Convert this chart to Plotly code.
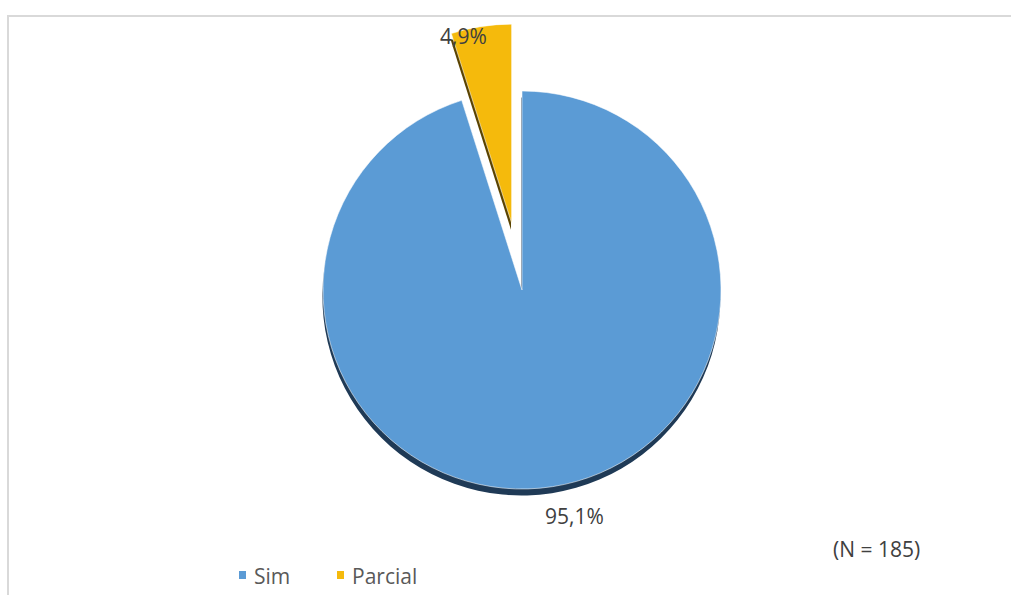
import plotly.graph_objects as go

# Data
labels = ["Sim", "Parcial"]
values = [95.1, 4.9]
sample_size = 185

colors = ["#5B9BD5", "#F5BA0C"]
shadow_colors = ["#1F3A56", "#5A4300"]

W, H = 1011, 595
FONT = "Open Sans, Liberation Sans, sans-serif"
TEXT_COLOR = "#404040"
LEGEND_COLOR = "#595959"

# Pie geometry (pixels)
cx, cy, r = 522, 290, 199
pull_parcial = 0.34
half = r * (1 + pull_parcial)


def domain(dx=0.0, dy=0.0):
    x0 = (cx + dx - half) / W
    x1 = (cx + dx + half) / W
    y0 = 1 - (cy + dy + half) / H
    y1 = 1 - (cy + dy - half) / H
    return dict(x=[x0, x1], y=[y0, y1])


pulls = [0, pull_parcial]

fig = go.Figure()

# drop shadow under the pie
fig.add_trace(go.Pie(
    labels=labels, values=values, sort=False, direction="clockwise", rotation=0,
    pull=pulls, domain=domain(-0.6, 6.5),
    marker=dict(colors=shadow_colors, line=dict(width=0)),
    textinfo="none", hoverinfo="skip", showlegend=False,
))

# main pie
fig.add_trace(go.Pie(
    labels=labels, values=values, sort=False, direction="clockwise", rotation=0,
    pull=pulls, domain=domain(),
    marker=dict(colors=colors, line=dict(color="rgba(255,255,255,0.55)", width=1)),
    textinfo="none", hoverinfo="label+percent", showlegend=False,
))


def pct(v):
    return f"{v:.1f}".replace(".", ",") + "%"


def px_x(x):
    return x / W


def px_y(y):
    return 1 - y / H


# value labels
label_pos = {"Sim": (574, 516), "Parcial": (463, 36)}
annotations = []
for lab, v in zip(labels, values):
    lx, ly = label_pos[lab]
    annotations.append(dict(
        x=px_x(lx), y=px_y(ly), xref="paper", yref="paper",
        text=pct(v), showarrow=False, xanchor="center", yanchor="middle",
        font=dict(family=FONT, size=21, color=TEXT_COLOR),
    ))

annotations.append(dict(
    x=px_x(876), y=px_y(549), xref="paper", yref="paper",
    text=f"(N = {sample_size})", showarrow=False, xanchor="center", yanchor="middle",
    font=dict(family=FONT, size=21, color=TEXT_COLOR),
))

shapes = [
    # chart area border
    dict(type="rect", xref="paper", yref="paper",
         x0=px_x(8), x1=1.02, y0=-0.02, y1=px_y(16),
         line=dict(color="#D9D9D9", width=2), fillcolor="rgba(0,0,0,0)", layer="below"),
]

# legend: small colour keys followed by the slice names
legend_x = [239, 337]
legend_y = 575
for lab, col, lx in zip(labels, colors, legend_x):
    shapes.append(dict(
        type="rect", xref="paper", yref="paper",
        x0=px_x(lx), x1=px_x(lx + 7), y0=px_y(legend_y + 4), y1=px_y(legend_y - 4),
        line=dict(width=0), fillcolor=col,
    ))
    annotations.append(dict(
        x=px_x(lx + 13), y=px_y(legend_y + 1), xref="paper", yref="paper",
        text=lab, showarrow=False, xanchor="left", yanchor="middle",
        font=dict(family=FONT, size=21, color=LEGEND_COLOR),
    ))

fig.update_layout(
    width=W, height=H,
    margin=dict(l=0, r=0, t=0, b=0),
    paper_bgcolor="white", plot_bgcolor="white",
    annotations=annotations,
    shapes=shapes,
    showlegend=False,
)

fig.write_html("out.html")
